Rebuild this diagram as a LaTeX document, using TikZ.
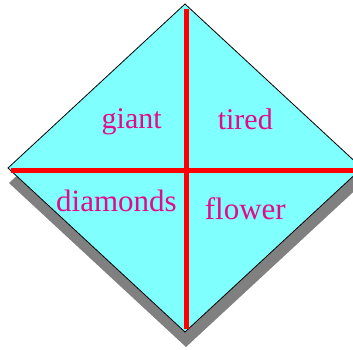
\documentclass[tikz,border=0pt]{standalone}
\usepackage{fontspec}
\setmainfont{Liberation Serif}
\definecolor{diacyan}{RGB}{128,255,255}
\definecolor{shadowgray}{RGB}{128,128,128}
\definecolor{textmag}{RGB}{228,10,140}
\begin{document}
\begin{tikzpicture}[x=1pt,y=-1pt,
  lbl/.style={anchor=base,inner sep=0pt,text=textmag,font=\fontsize{30}{36}\selectfont},
  lblb/.style={lbl,font=\fontsize{31}{37}\selectfont},
  redline/.style={draw=red,line width=5pt}]
\useasboundingbox (0,0) rectangle (353,349);
\coordinate (T) at (185,4);
\coordinate (L) at (8,168);
\coordinate (B) at (185,332);
\coordinate (R) at (362,168);
% shadow
\fill[shadowgray] ([shift={(1,15)}]T) -- ([shift={(1,15)}]R) -- ([shift={(1,15)}]B) -- ([shift={(1,15)}]L) -- cycle;
% diamond
\filldraw[fill=diacyan,draw=black,line width=0.8pt] (T) -- (R) -- (B) -- (L) -- cycle;
% red cross
\coordinate (vt) at (186.5,9);
\coordinate (vb) at (186.5,329);
\coordinate (hl) at (11,170.5);
\coordinate (hr) at (362,170.5);
\draw[redline] (vt) -- (vb);
\draw[redline] (hl) -- (hr);
% labels
\node[lbl] (giant) at (131.7,128.3) {giant};
\node[lbl] (tired) at (245.3,129.3) {tired};
\node[lblb] (diamonds) at (116.5,211.7) {diamonds};
\node[lblb] (flower) at (245.3,219) {flower};
\end{tikzpicture}
\end{document}
